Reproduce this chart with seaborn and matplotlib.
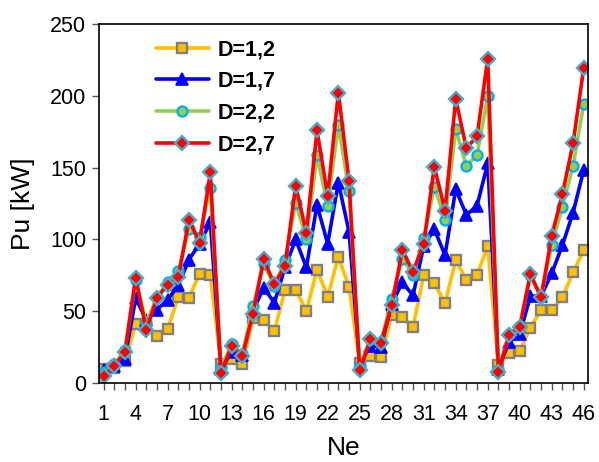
import numpy as np
import pandas as pd
import matplotlib
matplotlib.use("Agg")
import matplotlib.pyplot as plt
import seaborn as sns

# Number of elements on the x axis
ne = list(range(1, 47))

# Power Pu [kW] for each D value
pu_d12 = [10, 10.5, 15, 41, 40, 33, 37.5, 60, 59.5, 76, 75, 13, 16.5, 13, 45, 44,
          36, 65, 65, 50, 79, 60, 88, 67, 14, 18.6, 18, 47.5, 46, 39, 75, 69.4,
          55.5, 85.6, 71.7, 75.2, 95.4, 12.4, 21, 22.3, 38.6, 50.7, 50.7, 59.6, 77, 92.6]
pu_d17 = [9, 12, 17, 59, 44, 51, 58, 68, 86, 97, 112, 10, 21.6, 19.6, 50, 66.5,
          55.8, 80.5, 100, 80.5, 124, 97, 139.6, 105.4, 13, 26, 25.3, 55, 70, 61, 95.5, 107,
          89, 135, 117, 123.5, 153, 10, 28.6, 34, 60.5, 60.5, 76.3, 96, 118.6, 148.4]
pu_d22 = [8, 13, 23, 72, 42, 60, 70, 78, 107, 102, 136, 11, 27, 20, 53.5, 83,
          67.5, 86, 125.5, 100.5, 158.5, 123.3, 180, 133.5, 12, 30.5, 28.8, 58.5, 86.5, 75.5, 100.8, 136.8,
          113.5, 176.8, 151.2, 158.9, 199.6, 9, 34, 39.7, 75.2, 60, 96, 122.8, 151.2, 194.3]
pu_d27 = [4.7, 12, 21.6, 73.3, 37, 59.4, 68.5, 73.8, 113.7, 97.8, 146.6, 7, 25.6, 18.6, 48.4, 86.1,
          69, 81.2, 137.4, 104.7, 176, 130.3, 202.2, 141, 8.9, 30.3, 28.2, 54.2, 92.3, 77.5, 96.8, 150.7,
          120, 197.8, 163.6, 171.7, 225.9, 8, 33.3, 39, 75.9, 59.6, 102.4, 131.5, 167, 219.4]

series_labels = ["D=1,2", "D=1,7", "D=2,2", "D=2,7"]
series_values = [pu_d12, pu_d17, pu_d22, pu_d27]

x_tick_values = list(range(1, 47, 3))
y_tick_values = [0, 50, 100, 150, 200, 250]

sns.set_style("white")
plt.rcParams["font.family"] = ["Liberation Sans", "DejaVu Sans"]
plt.rcParams["text.color"] = "black"
plt.rcParams["axes.labelcolor"] = "black"
plt.rcParams["xtick.color"] = "black"
plt.rcParams["ytick.color"] = "black"

styles = [
    dict(color="#FFC000", marker="s", markersize=6.6, markerfacecolor="#FFC000",
         markeredgecolor="#808080", markeredgewidth=1.7),
    dict(color="#0000FF", marker="^", markersize=8, markerfacecolor="#0000FF",
         markeredgecolor="#0000FF", markeredgewidth=1.2),
    dict(color="#92D050", marker="o", markersize=7.2, markerfacecolor="#92D050",
         markeredgecolor="#00B0F0", markeredgewidth=1.7),
    dict(color="#FF0000", marker="D", markersize=7, markerfacecolor="#FF0000",
         markeredgecolor="#4BACC6", markeredgewidth=1.7),
]

fig = plt.figure(figsize=(5.99, 4.62), dpi=100)
ax = fig.add_axes([0.165, 0.171, 0.817, 0.777])

for label, vals, st in zip(series_labels, series_values, styles):
    df = pd.DataFrame({"Ne": ne, "Pu": vals})
    sns.lineplot(data=df, x="Ne", y="Pu", ax=ax, label=label, linewidth=2.6, **st)

ax.set_xlim(0.55, 46.42)
ax.set_ylim(0, 250)
ax.set_xticks(ne, minor=True)
ax.set_xticks(x_tick_values)
ax.set_xticklabels([str(v) for v in x_tick_values])
ax.set_yticks(y_tick_values)

ax.tick_params(axis="both", which="major", direction="out", length=5, width=1,
               color="#555555", labelcolor="black", labelsize=15.5, pad=6)
ax.tick_params(axis="x", which="minor", direction="out", length=5, width=1,
               color="#555555", bottom=True)
ax.tick_params(axis="x", which="major", pad=10)
ax.tick_params(axis="y", which="major", pad=4, left=True)
ax.tick_params(axis="x", which="both", bottom=True)

for side in ["left", "right", "top", "bottom"]:
    ax.spines[side].set_visible(True)
    ax.spines[side].set_color("black")
    ax.spines[side].set_linewidth(1.2)

ax.set_xlabel("Ne", fontsize=19, labelpad=8, color="black")
ax.set_ylabel("Pu [kW]", fontsize=19, labelpad=11, color="black")

leg = ax.legend(loc="upper left", bbox_to_anchor=(0.085, 1.0), frameon=False,
                prop={"weight": "bold", "size": 15.5}, handlelength=2.5,
                labelspacing=0.5, handletextpad=0.4, borderaxespad=0.3)
for t in leg.get_texts():
    t.set_color("black")

fig.savefig("out.png", dpi=100)
